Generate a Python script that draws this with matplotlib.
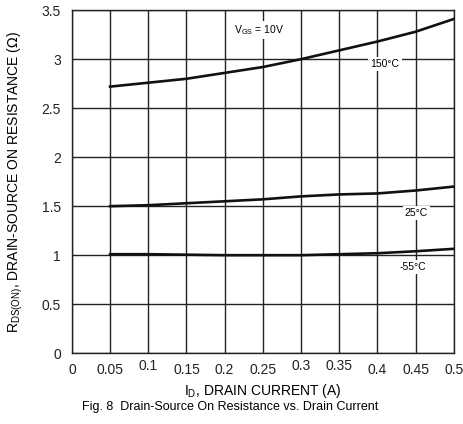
import numpy as np
import matplotlib.pyplot as plt
import matplotlib.transforms as mtransforms

plt.rcParams['font.family'] = ['Liberation Sans', 'DejaVu Sans']

# Drain current (A)
current = [0.05, 0.10, 0.15, 0.20, 0.25, 0.30, 0.35, 0.40, 0.45, 0.50]

# R_DS(on) in ohms for each junction temperature
r_150 = [2.72, 2.76, 2.80, 2.86, 2.92, 3.00, 3.09, 3.18, 3.28, 3.41]
r_25 = [1.50, 1.51, 1.53, 1.55, 1.57, 1.60, 1.62, 1.63, 1.66, 1.70]
r_m55 = [1.01, 1.01, 1.005, 1.0, 1.0, 1.0, 1.01, 1.02, 1.04, 1.065]

xticks = [0, 0.05, 0.1, 0.15, 0.2, 0.25, 0.3, 0.35, 0.4, 0.45, 0.5]
xtick_labels = ['0', '0.05', '0.1', '0.15', '0.2', '0.25', '0.3', '0.35', '0.4', '0.45', '0.5']
yticks = [0, 0.5, 1, 1.5, 2, 2.5, 3, 3.5]
ytick_labels = ['0', '0.5', '1', '1.5', '2', '2.5', '3', '3.5']

fig = plt.figure(figsize=(4.64, 4.24), dpi=100)
ax = fig.add_axes([0.155, 0.167, 0.823, 0.809])

ax.set_xlim(0, 0.5)
ax.set_ylim(0, 3.5)
ax.set_xticks(xticks)
ax.set_xticklabels(xtick_labels)
ax.set_yticks(yticks)
ax.set_yticklabels(ytick_labels)
ax.tick_params(length=0, labelsize=10, colors='#222222', pad=7)
ax.tick_params(axis='y', pad=8)
ax.grid(True, color='#222222', linewidth=1.0)
for s in ax.spines.values():
    s.set_color('#222222')
    s.set_linewidth(1.0)

# some x labels sit slightly higher, like in the scanned original
raised = {'0.1', '0.3', '0.35'}
for lab in ax.get_xticklabels():
    if lab.get_text() in raised:
        lab.set_transform(lab.get_transform() + mtransforms.ScaledTranslation(0, 3 / 72, fig.dpi_scale_trans))

for r in (r_150, r_25, r_m55):
    ax.plot(current, r, color='#111111', linewidth=1.9, zorder=3)

box = dict(facecolor='white', edgecolor='none', pad=1.5)
ax.text(0.245, 3.3, r'V$_{\mathregular{GS}}$ = 10V', fontsize=7.5, ha='center', va='center', bbox=box, zorder=4)
ax.text(0.41, 2.95, '150°C', fontsize=7.5, ha='center', va='center', bbox=box, zorder=4)
ax.text(0.451, 1.43, '25°C', fontsize=7.5, ha='center', va='center', bbox=box, zorder=4)
ax.text(0.447, 0.88, '-55°C', fontsize=7.5, ha='center', va='center', bbox=box, zorder=4)

ax.set_ylabel(r'R$_{\mathregular{DS(ON)}}$, DRAIN-SOURCE ON RESISTANCE ($\Omega$)', fontsize=10, labelpad=12)
fig.text(0.567, 0.077, r'I$_{\mathregular{D}}$, DRAIN CURRENT (A)', fontsize=10, ha='center', va='center')
fig.text(0.497, 0.040, 'Fig. 8  Drain-Source On Resistance vs. Drain Current', fontsize=9, ha='center', va='center')

fig.savefig('out.png', dpi=100)
